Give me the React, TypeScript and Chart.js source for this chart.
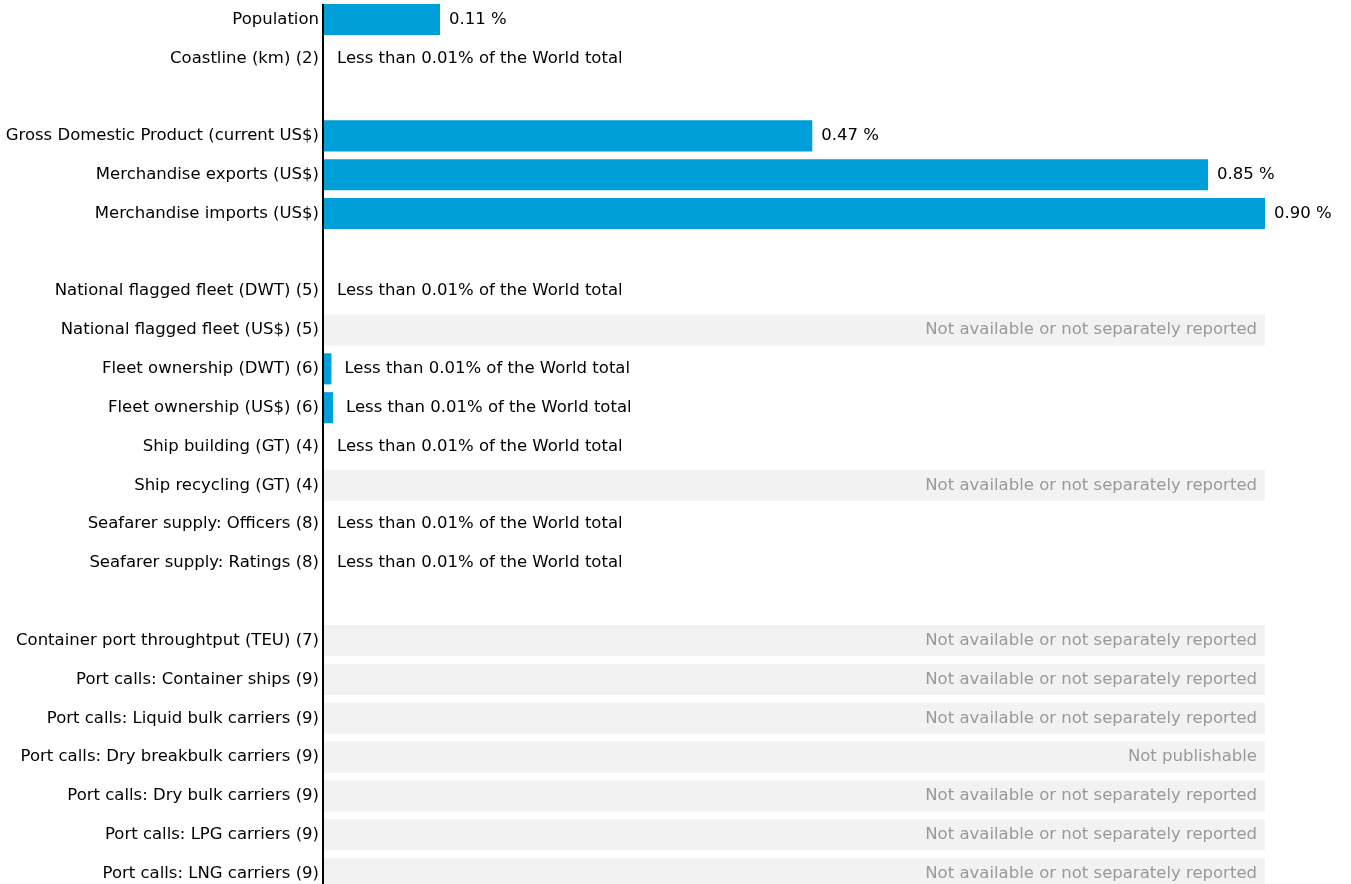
import React, { useEffect, useRef } from "react";
import { Chart, registerables } from "chart.js";

Chart.register(...registerables);

const categories: string[] = [
  "Population",
  "Coastline (km) (2)",
  "",
  "Gross Domestic Product (current US$)",
  "Merchandise exports (US$)",
  "Merchandise imports (US$)",
  " ",
  "National flagged fleet (DWT) (5)",
  "National flagged fleet (US$) (5)",
  "Fleet ownership (DWT) (6)",
  "Fleet ownership (US$) (6)",
  "Ship building (GT) (4)",
  "Ship recycling (GT) (4)",
  "Seafarer supply: Officers (8)",
  "Seafarer supply: Ratings (8)",
  "  ",
  "Container port throughtput (TEU) (7)",
  "Port calls: Container ships (9)",
  "Port calls: Liquid bulk carriers (9)",
  "Port calls: Dry breakbulk carriers (9)",
  "Port calls: Dry bulk carriers (9)",
  "Port calls: LPG carriers (9)",
  "Port calls: LNG carriers (9)",
];

// share of world total, in percent
const shares: (number | null)[] = [
  0.111, 0, null, 0.467, 0.8455, 0.9, null, 0, null, 0.0071, 0.0086, 0, null, 0, 0,
  null, null, null, null, null, null, null, null,
];

const LESS = "Less than 0.01% of the World total";
const NA = "Not available or not separately reported";
const NP = "Not publishable";

const notes: string[] = [
  "0.11 %", LESS, "", "0.47 %", "0.85 %", "0.90 %", "", LESS, NA, LESS, LESS, LESS, NA, LESS, LESS,
  "", NA, NA, NA, NP, NA, NA, NA,
];

const FONT = "'DejaVu Sans', Verdana, sans-serif";
const FONT_SIZE = 16.5;

export default function App() {
  const ref = useRef<HTMLCanvasElement | null>(null);

  useEffect(() => {
    document.body.style.margin = "0";
    const canvas = ref.current;
    if (!canvas) return;
    const xMax = Math.max(...(shares.filter((v) => v !== null) as number[]));
    const bgData = notes.map((n) => (n === NA || n === NP ? xMax : null));

    const labelPlugin = {
      id: "notes",
      afterDatasetsDraw(chart: any) {
        const ctx = chart.ctx as CanvasRenderingContext2D;
        const xs = chart.scales.x;
        const ys = chart.scales.y;
        const area = chart.chartArea;
        const meta = chart.getDatasetMeta(1);
        ctx.save();
        ctx.font = `${FONT_SIZE}px ${FONT}`;
        ctx.textBaseline = "middle";
        notes.forEach((n, i) => {
          if (!n) return;
          const y = ys.getPixelForValue(i);
          if (n === NA || n === NP) {
            ctx.fillStyle = "#999999";
            ctx.textAlign = "right";
            ctx.fillText(n, area.right - 8, y);
          } else {
            const v = shares[i] ?? 0;
            const end = xs.getPixelForValue(v);
            ctx.fillStyle = "#000000";
            ctx.textAlign = "left";
            ctx.fillText(n, end + (n === LESS ? 13 : 9), y);
          }
        });
        // axis line
        const firstBar = meta.data[0];
        const top = firstBar ? firstBar.y - firstBar.height / 2 : area.top;
        ctx.fillStyle = "#000000";
        ctx.fillRect(area.left - 2, top, 2, area.bottom - top);
        ctx.restore();
      },
    };

    const chart = new Chart(canvas, {
      type: "bar",
      data: {
        labels: categories,
        datasets: [
          {
            data: bgData,
            backgroundColor: "#f2f2f2",
            grouped: false,
            categoryPercentage: 1,
            barPercentage: 0.8,
          } as any,
          {
            data: shares,
            backgroundColor: "#009fda",
            grouped: false,
            categoryPercentage: 1,
            barPercentage: 0.8,
          } as any,
        ],
      },
      options: {
        indexAxis: "y",
        animation: false,
        responsive: false,
        maintainAspectRatio: false,
        layout: { padding: { top: 0, right: 86, bottom: 0, left: 0 } },
        plugins: { legend: { display: false }, tooltip: { enabled: false } },
        scales: {
          x: { display: false, min: 0, max: xMax },
          y: {
            grid: { display: false, drawTicks: false },
            border: { display: false },
            ticks: {
              color: "#000000",
              padding: 5,
              font: { family: FONT, size: FONT_SIZE },
              autoSkip: false,
            },
            afterFit(scale: any) {
              scale.width = 324;
              scale.paddingTop = 0;
              scale.paddingBottom = 0;
            },
          } as any,
        },
      },
      plugins: [labelPlugin],
    });
    return () => chart.destroy();
  }, []);

  return (
    <div style={{ position: "fixed", left: 0, top: 0, width: 1351, height: 884, overflow: "hidden", background: "#fff" }}>
      <canvas ref={ref} width={1351} height={893} style={{ display: "block" }} />
    </div>
  );
}
